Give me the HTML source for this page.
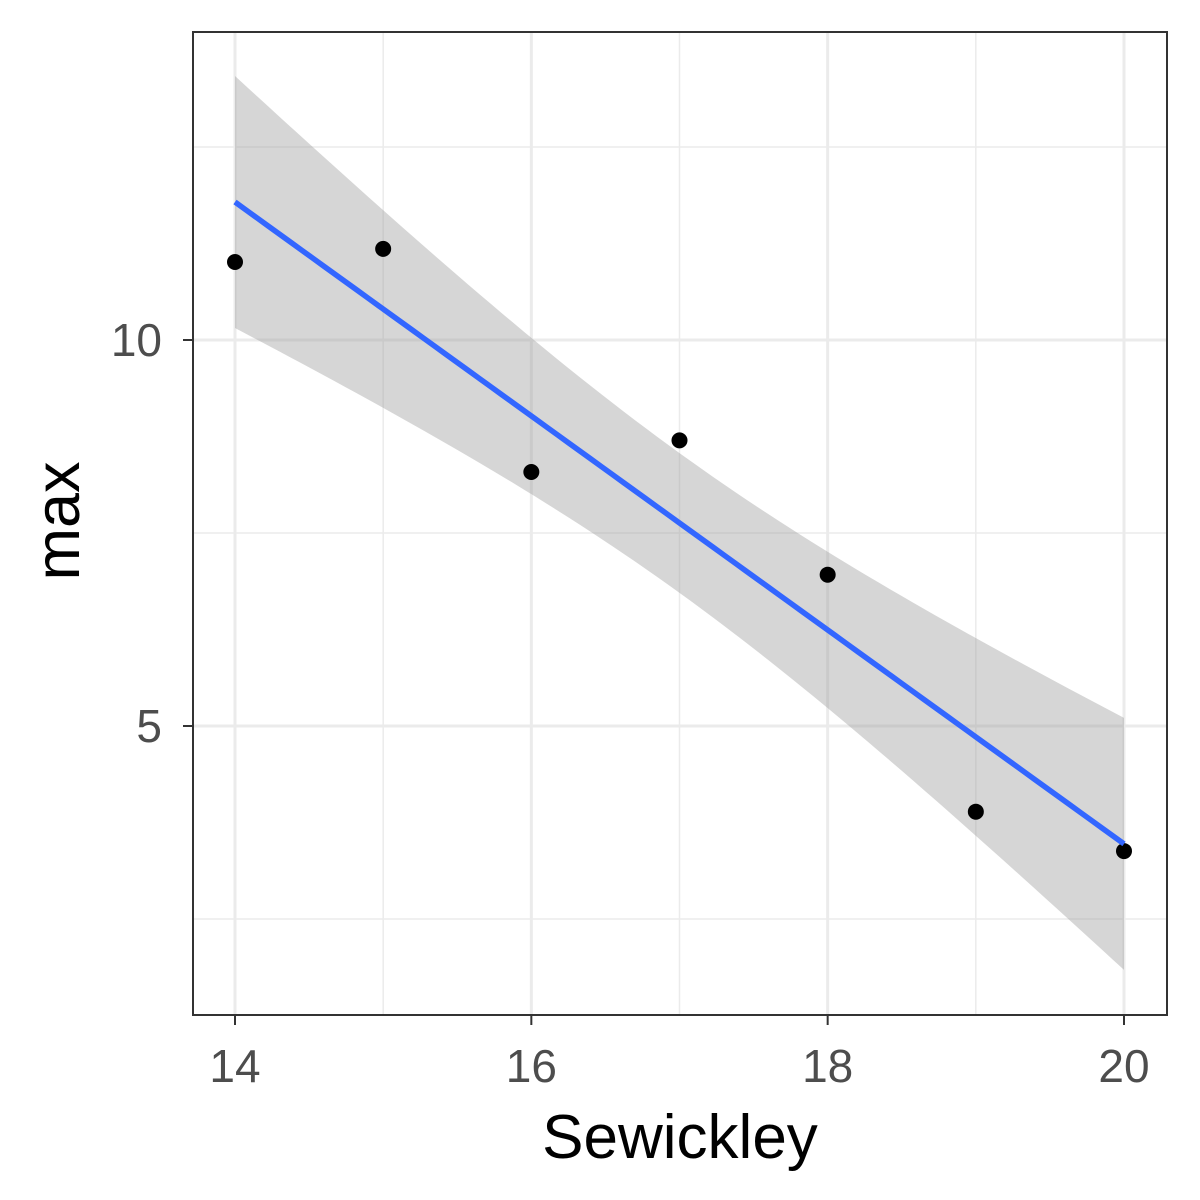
<!DOCTYPE html>
<html><head><meta charset="utf-8">
<style>
html,body{margin:0;padding:0;background:#fff;}
svg{display:block;font-family:"Liberation Sans",Arial,sans-serif;}
</style></head>
<body>
<svg id="chart" width="1200" height="1200" viewBox="0 0 1200 1200"></svg>
<script>
const xVals = [14, 15, 16, 17, 18, 19, 20];
const yVals = [11.01, 11.18, 8.29, 8.70, 6.96, 3.89, 3.38];
const xTicks = [14, 16, 18, 20];
const yTicks = [5, 10];
const yMinor = [2.5, 7.5, 12.5];
const xMinor = [15, 17, 19];

const P = {l:193, r:1167, t:32, b:1015};
function sx(v){ return 235 + (v-14)*148.1667; }
function sy(v){ return 340 - (v-10)*77.2; }
const NS = "http://www.w3.org/2000/svg";
const svg = document.getElementById('chart');
function mk(tag, attrs, parent){
  const e = document.createElementNS(NS, tag);
  for (const k in attrs) e.setAttribute(k, attrs[k]);
  (parent||svg).appendChild(e);
  return e;
}
const bg = mk('rect',{x:P.l,y:P.t,width:P.r-P.l,height:P.b-P.t,fill:'#fff'});



yMinor.forEach(v=>{ const l=mk('line',{x1:P.l,x2:P.r,y1:sy(v),y2:sy(v),stroke:'#ebebeb','stroke-width':1.5});
    });
xMinor.forEach(v=>{ const l=mk('line',{y1:P.t,y2:P.b,x1:sx(v),x2:sx(v),stroke:'#ebebeb','stroke-width':1.5});
    });
yTicks.forEach(v=>{ const l=mk('line',{x1:P.l,x2:P.r,y1:sy(v),y2:sy(v),stroke:'#ebebeb','stroke-width':3});
    });
xTicks.forEach(v=>{ const l=mk('line',{y1:P.t,y2:P.b,x1:sx(v),x2:sx(v),stroke:'#ebebeb','stroke-width':3});
    });

const n = xVals.length;
const xm = xVals.reduce((a,b)=>a+b,0)/n, ym = yVals.reduce((a,b)=>a+b,0)/n;
let sxx=0, sxy=0; for(let i=0;i<n;i++){ sxx+=(xVals[i]-xm)**2; sxy+=(xVals[i]-xm)*(yVals[i]-ym); }
const slope = sxy/sxx, icpt = ym - slope*xm;
let sse=0; for(let i=0;i<n;i++){ sse+=(yVals[i]-(icpt+slope*xVals[i]))**2; }
const s = Math.sqrt(sse/(n-2)), tcrit = 2.571;
const xmin = Math.min(...xVals), xmax = Math.max(...xVals);
const up=[], lo=[], mid=[];
for(let k=0;k<=80;k++){
  const x = xmin + (xmax-xmin)*k/80;
  const f = icpt+slope*x;
  const h = tcrit*s*Math.sqrt(1/n + (x-xm)**2/sxx);
  up.push([sx(x),sy(f+h)]); lo.push([sx(x),sy(f-h)]); mid.push([sx(x),sy(f)]);
}
const band = mk('path',{d:'M'+up.map(p=>p.join(',')).join('L')+'L'+lo.reverse().map(p=>p.join(',')).join('L')+'Z',fill:'#999999','fill-opacity':0.4});



for(let i=0;i<n;i++){
  const c = mk('circle',{cx:sx(xVals[i]),cy:sy(yVals[i]),r:8,fill:'#000'});
  
  
}
const line = mk('path',{d:'M'+mid.map(p=>p.join(',')).join('L'),fill:'none',stroke:'#3366FF','stroke-width':5.5});



const border = mk('rect',{x:P.l,y:P.t,width:P.r-P.l,height:P.b-P.t,fill:'none',stroke:'#333','stroke-width':2});



xTicks.forEach(v=>{
  const t = mk('line',{x1:sx(v),x2:sx(v),y1:P.b,y2:P.b+10,stroke:'#333','stroke-width':2});
   
  const tx = mk('text',{x:sx(v),y:1082,'text-anchor':'middle','font-size':46,fill:'#4d4d4d'});
  tx.textContent = v;
   
});
yTicks.forEach(v=>{
  const t = mk('line',{x1:P.l-10,x2:P.l,y1:sy(v),y2:sy(v),stroke:'#333','stroke-width':2});
   
  const tx = mk('text',{x:162,y:sy(v)+16,'text-anchor':'end','font-size':46,fill:'#4d4d4d'});
  tx.textContent = v;
   
});
const xt = mk('text',{x:680,y:1158,'text-anchor':'middle','font-size':62,fill:'#000'});
xt.textContent='Sewickley';
 
const yt = mk('text',{x:0,y:0,'text-anchor':'middle','font-size':63,fill:'#000',transform:'translate(79,521) rotate(-90)'});
yt.textContent='max';
 
</script>
</body></html>
